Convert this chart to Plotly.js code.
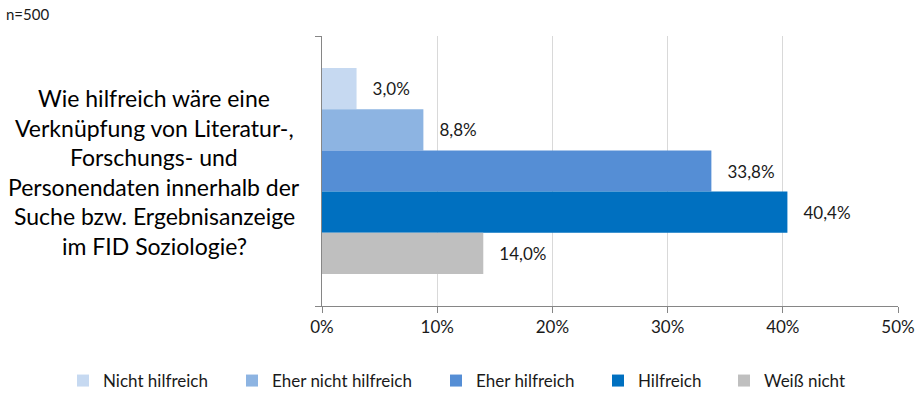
<!DOCTYPE html>
<html><head><meta charset="utf-8">
<script src="https://cdn.plot.ly/plotly-3.0.1.min.js"></script>
<style>html,body{margin:0;padding:0;background:#fff}#chart{width:924px;height:396px}</style>
</head><body><div id="chart"></div>
<script>
const seriesNames = ["Nicht hilfreich", "Eher nicht hilfreich", "Eher hilfreich", "Hilfreich", "Weiß nicht"];
const seriesValues = [0.030, 0.088, 0.338, 0.404, 0.140];
const seriesColors = ["#C6D9F1", "#8DB4E2", "#558ED5", "#0070C0", "#BFBFBF"];
const category = ["Frage"];
const questionLines = ["Wie hilfreich wäre eine", "Verknüpfung von Literatur-,", "Forschungs- und", "Personendaten innerhalb der", "Suche bzw. Ergebnisanzeige", "im FID Soziologie?"];
const sampleNote = "n=500";
const xTickVals = [0, 0.1, 0.2, 0.3, 0.4, 0.5];

const W = 924, H = 396;
const M = {l: 322, r: 26, t: 36, b: 90};
const pw = W - M.l - M.r, ph = H - M.t - M.b;
const px2x = p => (p - M.l) / pw;
const px2y = p => 1 - (p - M.t) / ph;
const FONT = "Lato, 'Open Sans', sans-serif";
const legendTextStarts = [103, 272, 476, 638, 764];

const traces = seriesNames.map((n, i) => ({
  type: "bar", orientation: "h", name: n,
  x: [seriesValues[i]], y: category,
  marker: {color: seriesColors[i]},
  texttemplate: "\u00a0\u00a0\u00a0%{x:.1%}", textposition: "outside",
  textfont: {family: FONT, size: 17, color: "#1a1a1a"},
  cliponaxis: false, hoverinfo: "skip",
  legend: i === 0 ? "legend" : "legend" + (i + 1)
}));

const layout = {
  width: W, height: H, margin: M,
  paper_bgcolor: "#fff", plot_bgcolor: "#fff",
  separators: ",.",
  font: {family: FONT, color: "#1a1a1a"},
  barmode: "group", bargap: 0.237, bargroupgap: 0,
  showlegend: true,
  xaxis: {range: [0, 0.5], tickvals: xTickVals, tickformat: ".0%",
    showgrid: true, gridcolor: "#D9D9D9", gridwidth: 1, zeroline: false,
    showline: true, linecolor: "#868686", linewidth: 1,
    ticks: "outside", ticklen: 6, tickcolor: "#868686",
    tickfont: {family: FONT, size: 17, color: "#1a1a1a"}, fixedrange: true},
  yaxis: {type: "category", autorange: "reversed", showticklabels: false,
    tickson: "boundaries", ticks: "outside", ticklen: 6, tickcolor: "#868686",
    showgrid: false, zeroline: false, showline: true, linecolor: "#868686", linewidth: 1, fixedrange: true},
  annotations: [
    ...questionLines.map((t, i) => ({
      text: t, xref: "paper", yref: "paper", x: px2x(154), y: px2y(98 + i * 29.6),
      xanchor: "center", yanchor: "middle", showarrow: false,
      font: {family: FONT, size: 23, color: "#000"}
    })),
    {text: sampleNote, xref: "paper", yref: "paper", x: px2x(4), y: px2y(14),
     xanchor: "left", yanchor: "middle", showarrow: false,
     font: {family: FONT, size: 15, color: "#1a1a1a"}}
  ]
};
legendTextStarts.forEach((s, i) => {
  const key = i === 0 ? "legend" : "legend" + (i + 1);
  layout[key] = {orientation: "h", xref: "container", yref: "container",
    x: (s - 40) / W, y: 1 - 381 / H, xanchor: "left", yanchor: "middle",
    font: {family: FONT, size: 17, color: "#1a1a1a"}, bgcolor: "rgba(0,0,0,0)",
    borderwidth: 0, itemclick: false, itemdoubleclick: false};
});

Plotly.newPlot("chart", traces, layout, {staticPlot: true, displayModeBar: false});
</script></body></html>
